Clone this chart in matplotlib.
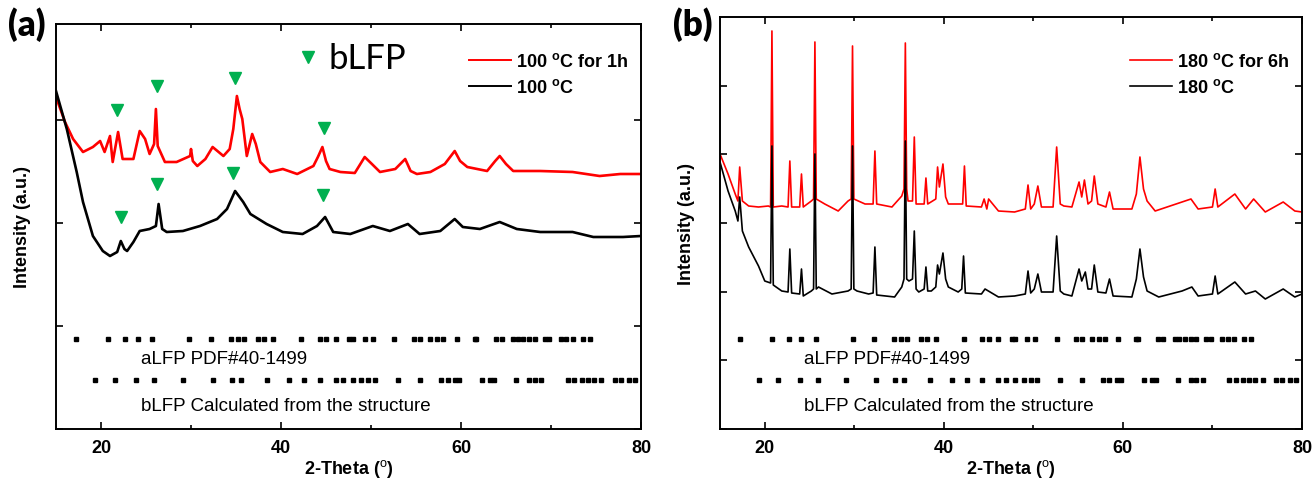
import matplotlib
matplotlib.use("Agg")
import matplotlib.pyplot as plt
from matplotlib.ticker import MultipleLocator
from matplotlib.transforms import blended_transform_factory

plt.rcParams['font.family'] = ['Liberation Sans', 'DejaVu Sans']
plt.rcParams['mathtext.fontset'] = 'custom'
plt.rcParams['mathtext.rm'] = 'Liberation Sans'
plt.rcParams['mathtext.bf'] = 'Liberation Sans:bold'

# ---------------- data (a) ----------------
tt_a_red = [15.0, 16.0, 16.9, 18.0, 19.1, 19.9, 20.4, 21.0, 21.3, 21.9, 22.4, 23.6, 24.3, 24.9, 25.4,
            25.9, 26.1, 26.3, 27.1, 28.4, 29.9, 30.0, 30.2, 30.7, 31.6, 32.4, 33.6, 34.3, 34.7, 35.1,
            35.4, 35.7, 36.2, 36.8, 37.2, 37.7, 38.8, 40.2, 41.8, 43.6, 44.1, 44.6, 45.0, 45.4, 46.6,
            48.2, 49.3, 50.1, 51.0, 52.7, 53.8, 54.4, 55.1, 56.6, 58.2, 59.3, 59.9, 60.7, 62.9, 63.8,
            64.3, 65.0, 65.8, 68.8, 72.4, 75.4, 77.7, 80.0]
int_a_red = [332, 307, 290, 277, 282, 288, 277, 293, 267, 297, 270, 270, 298, 290, 275,
             285, 320, 283, 267, 267, 273, 280, 268, 263, 270, 282, 273, 280, 300, 333,
             320, 310, 273, 295, 285, 267, 257, 260, 255, 263, 272, 282, 268, 260, 257,
             256, 272, 265, 257, 260, 270, 258, 255, 257, 265, 278, 268, 262, 258, 268,
             273, 265, 258, 258, 257, 253, 255, 255]

tt_a_blk = [15.0, 16.2, 17.3, 18.0, 19.1, 20.2, 21.0, 21.8, 22.2, 22.6, 22.9, 23.6, 24.3, 25.4, 26.1,
            26.4, 26.8, 27.3, 29.1, 31.0, 32.9, 34.0, 34.9, 35.8, 36.6, 38.4, 40.2, 42.4, 44.0, 44.9,
            45.8, 47.7, 50.2, 52.1, 54.1, 55.4, 57.7, 59.3, 60.2, 62.1, 64.3, 66.2, 68.8, 72.4, 74.7,
            78.0, 80.0]
int_a_blk = [338, 300, 257, 227, 193, 178, 173, 177, 188, 180, 178, 187, 198, 200, 203,
             225, 200, 197, 198, 203, 210, 220, 238, 227, 215, 205, 197, 195, 203, 212,
             197, 195, 203, 198, 205, 195, 198, 210, 202, 200, 207, 200, 197, 197, 192,
             192, 193]

# bLFP reflections marked with triangles in (a)
tri_a_red_x = [21.8, 26.2, 34.9, 44.8]
tri_a_red_y = [319, 343, 351, 301]
tri_a_blk_x = [22.2, 26.2, 34.7, 44.7]
tri_a_blk_y = [212, 245, 256, 234]

# ---------------- data (b) ----------------
tt_b_red = [15.0, 15.9, 16.7, 17.0, 17.2, 17.5, 18.2, 19.3, 20.4, 20.65, 20.8, 20.95, 21.9, 22.6, 22.8,
            23.0, 23.9, 24.1, 24.3, 25.2, 25.45, 25.6, 25.75, 26.7, 28.2, 29.3, 29.65, 29.8, 29.95, 31.2,
            32.1, 32.3, 32.5, 34.2, 35.3, 35.55, 35.7, 35.85, 36.0, 36.5, 36.7, 36.9, 37.8, 38.0, 38.2,
            39.1, 39.3, 39.5, 39.9, 40.2, 40.5, 41.6, 42.1, 42.3, 42.5, 44.2, 44.5, 44.8, 45.0, 46.1,
            47.9, 49.1, 49.4, 49.7, 50.1, 50.5, 50.9, 52.2, 52.6, 53.0, 53.4, 54.3, 55.1, 55.4, 55.7,
            56.1, 56.5, 56.8, 57.2, 58.1, 58.5, 58.9, 61.0, 61.5, 61.9, 62.3, 62.7, 63.6, 66.6, 67.6,
            68.4, 70.0, 70.3, 70.6, 72.5, 73.7, 74.6, 75.9, 77.9, 79.2, 80.0]
int_b_red = [275, 255, 235, 228, 262, 228, 223, 222, 223, 222, 398, 222, 223, 222, 268,
             222, 222, 255, 222, 228, 230, 387, 230, 225, 218, 228, 230, 383, 230, 225,
             225, 278, 225, 222, 233, 240, 386, 240, 228, 228, 292, 225, 225, 251, 225,
             230, 262, 242, 265, 232, 225, 225, 225, 263, 223, 222, 230, 220, 230, 218,
             217, 220, 244, 220, 225, 243, 222, 222, 282, 225, 223, 222, 247, 232, 249,
             225, 228, 253, 225, 222, 237, 220, 220, 235, 272, 240, 228, 218, 227, 230,
             220, 222, 240, 222, 235, 220, 230, 217, 227, 218, 217]

tt_b_blk = [15.0, 15.9, 16.7, 17.0, 17.2, 17.5, 18.2, 19.3, 20.0, 20.65, 20.8, 20.95, 21.9, 22.6, 22.8,
            23.0, 23.9, 24.1, 24.3, 25.2, 25.45, 25.6, 25.75, 26.0, 27.5, 29.3, 29.65, 29.8, 29.95, 30.3,
            31.6, 32.1, 32.3, 32.5, 34.5, 35.3, 35.55, 35.7, 35.85, 36.1, 36.5, 36.7, 36.9, 37.2, 37.8,
            38.0, 38.2, 38.6, 39.1, 39.3, 39.5, 39.9, 40.2, 40.5, 41.6, 42.0, 42.2, 42.4, 44.2, 44.6,
            46.1, 47.9, 49.1, 49.4, 49.7, 50.1, 50.5, 50.9, 52.2, 52.6, 53.0, 53.4, 54.3, 55.1, 55.4,
            55.8, 56.1, 56.5, 56.8, 57.2, 58.1, 58.5, 58.9, 61.0, 61.5, 61.9, 62.3, 62.7, 64.0, 66.6,
            67.7, 68.4, 70.0, 70.3, 70.6, 72.5, 73.7, 74.8, 75.9, 77.9, 79.2, 80.0]
int_b_blk = [267, 238, 218, 208, 232, 198, 182, 163, 148, 146, 283, 144, 138, 137, 180,
             136, 135, 160, 133, 138, 140, 275, 140, 142, 135, 138, 140, 283, 140, 138,
             135, 136, 182, 134, 132, 142, 150, 288, 150, 148, 150, 198, 140, 137, 140,
             162, 138, 138, 142, 164, 155, 176, 150, 142, 137, 140, 173, 136, 135, 140,
             132, 133, 135, 158, 136, 140, 155, 137, 137, 193, 138, 135, 133, 160, 148,
             157, 140, 140, 164, 137, 136, 150, 133, 132, 150, 180, 152, 138, 132, 138,
             142, 133, 135, 153, 135, 147, 135, 138, 130, 140, 132, 135]

# reference reflection positions (2-theta)
alfp_pdf = [17.2, 20.8, 22.7, 24.1, 25.7, 29.8, 32.2, 34.4, 35.2, 35.9, 37.4, 38.1, 39.1, 42.2,
            44.3, 45.0, 46.1, 47.6, 48.0, 49.3, 50.2, 52.6, 54.8, 55.4, 56.5, 57.3, 58.0, 59.5,
            61.5, 61.7, 63.9, 64.5, 65.8, 66.3, 66.9, 67.6, 68.2, 69.3, 69.8, 71.1, 71.7, 72.4,
            73.5, 74.3]
blfp_calc = [19.3, 21.5, 23.9, 25.9, 29.1, 32.4, 34.6, 35.6, 38.4, 40.9, 42.6, 44.3, 46.1, 46.9,
             48.0, 48.9, 49.7, 50.4, 53.0, 55.4, 57.8, 58.5, 59.3, 59.8, 62.3, 63.2, 63.7, 66.1,
             67.6, 68.2, 68.9, 71.9, 72.6, 73.4, 74.1, 74.8, 75.6, 77.1, 77.8, 78.7, 79.3]

labels_a = [r'100 $^\mathbf{o}$C for 1h', r'100 $^\mathbf{o}$C']
labels_b = [r'180 $^\mathbf{o}$C for 6h', r'180 $^\mathbf{o}$C']
ref_labels = ['aLFP PDF#40-1499', 'bLFP Calculated from the structure']

GREEN = '#00B050'
W, H = 1314, 481
fig = plt.figure(figsize=(W / 100, H / 100), dpi=100)
ax_a = fig.add_axes([56 / W, 1 - 430 / H, 585 / W, 405 / H])
ax_b = fig.add_axes([720 / W, 1 - 430 / H, 582 / W, 412 / H])

FS = 13


def style(ax, ytick):
    ax.set_xlim(15, 80)
    ax.xaxis.set_major_locator(MultipleLocator(20))
    ax.xaxis.set_minor_locator(MultipleLocator(10))
    ax.yaxis.set_major_locator(MultipleLocator(ytick))
    ax.tick_params(which='both', direction='in', top=True, right=True, width=1.2)
    ax.tick_params(which='major', length=5, pad=7)
    ax.tick_params(which='minor', length=3)
    ax.tick_params(axis='y', labelleft=False)
    for s in ax.spines.values():
        s.set_linewidth(1.4)
    for lab in ax.get_xticklabels():
        lab.set_fontweight('bold')
        lab.set_fontsize(FS)
    ax.set_xlabel(r'2-Theta ($^\mathrm{o}$)', fontsize=FS, fontweight='bold', labelpad=1)
    ax.set_ylabel('Intensity (a.u.)', fontsize=FS, fontweight='bold', labelpad=18)


def ref_rows(ax, y1, y2, t1, t2):
    tr = blended_transform_factory(ax.transData, ax.transAxes)
    ax.plot(alfp_pdf, [y1] * len(alfp_pdf), 's', color='black', ms=3.4, transform=tr, clip_on=False)
    ax.plot(blfp_calc, [y2] * len(blfp_calc), 's', color='black', ms=3.4, transform=tr, clip_on=False)
    ax.text(24.4, t1, ref_labels[0], transform=tr, fontsize=13.5, va='center', ha='left')
    ax.text(24.4, t2, ref_labels[1], transform=tr, fontsize=13.5, va='center', ha='left')


# panel (a)
ax_a.plot(tt_a_red, int_a_red, color='#ff0000', lw=1.9, label=labels_a[0])
ax_a.plot(tt_a_blk, int_a_blk, color='black', lw=1.9, label=labels_a[1])
ax_a.plot(tri_a_red_x, tri_a_red_y, 'v', color=GREEN, ms=8.5, ls='none')
ax_a.plot(tri_a_blk_x, tri_a_blk_y, 'v', color=GREEN, ms=8.5, ls='none')
ax_a.set_ylim(0, 405)
style(ax_a, 103)
ref_rows(ax_a, 0.222, 0.121, 0.173, 0.057)
ax_a.plot([0.431], [0.918], 'v', color=GREEN, ms=8, transform=ax_a.transAxes)
ax_a.text(0.466, 0.915, 'bLFP', transform=ax_a.transAxes, fontsize=25, family='Lato',
          va='center', ha='left')
leg_a = ax_a.legend(loc='upper right', bbox_to_anchor=(1.0, 0.962), frameon=False,
                    prop={'weight': 'bold', 'size': FS}, handlelength=2.3, handletextpad=0.3,
                    labelspacing=0.45, borderaxespad=0.3)
for ln in leg_a.get_lines():
    ln.set_linewidth(1.4)

# panel (b)
ax_b.plot(tt_b_red, int_b_red, color='#ff0000', lw=1.2, label=labels_b[0])
ax_b.plot(tt_b_blk, int_b_blk, color='black', lw=1.2, label=labels_b[1])
ax_b.set_ylim(0, 412)
style(ax_b, 68.7)
ref_rows(ax_b, 0.218, 0.119, 0.170, 0.056)
ax_b.legend(loc='upper right', bbox_to_anchor=(1.0, 0.945), frameon=False,
            prop={'weight': 'bold', 'size': FS}, handlelength=2.3, handletextpad=0.3,
            labelspacing=0.45, borderaxespad=0.3)

fig.text(8 / W, 1 - 25 / H, '(a)', fontsize=25, fontweight='heavy', family='Lato', va='center', ha='left')
fig.text(673 / W, 1 - 25 / H, '(b)', fontsize=25, fontweight='heavy', family='Lato', va='center', ha='left')

fig.savefig('out.png', dpi=100)
